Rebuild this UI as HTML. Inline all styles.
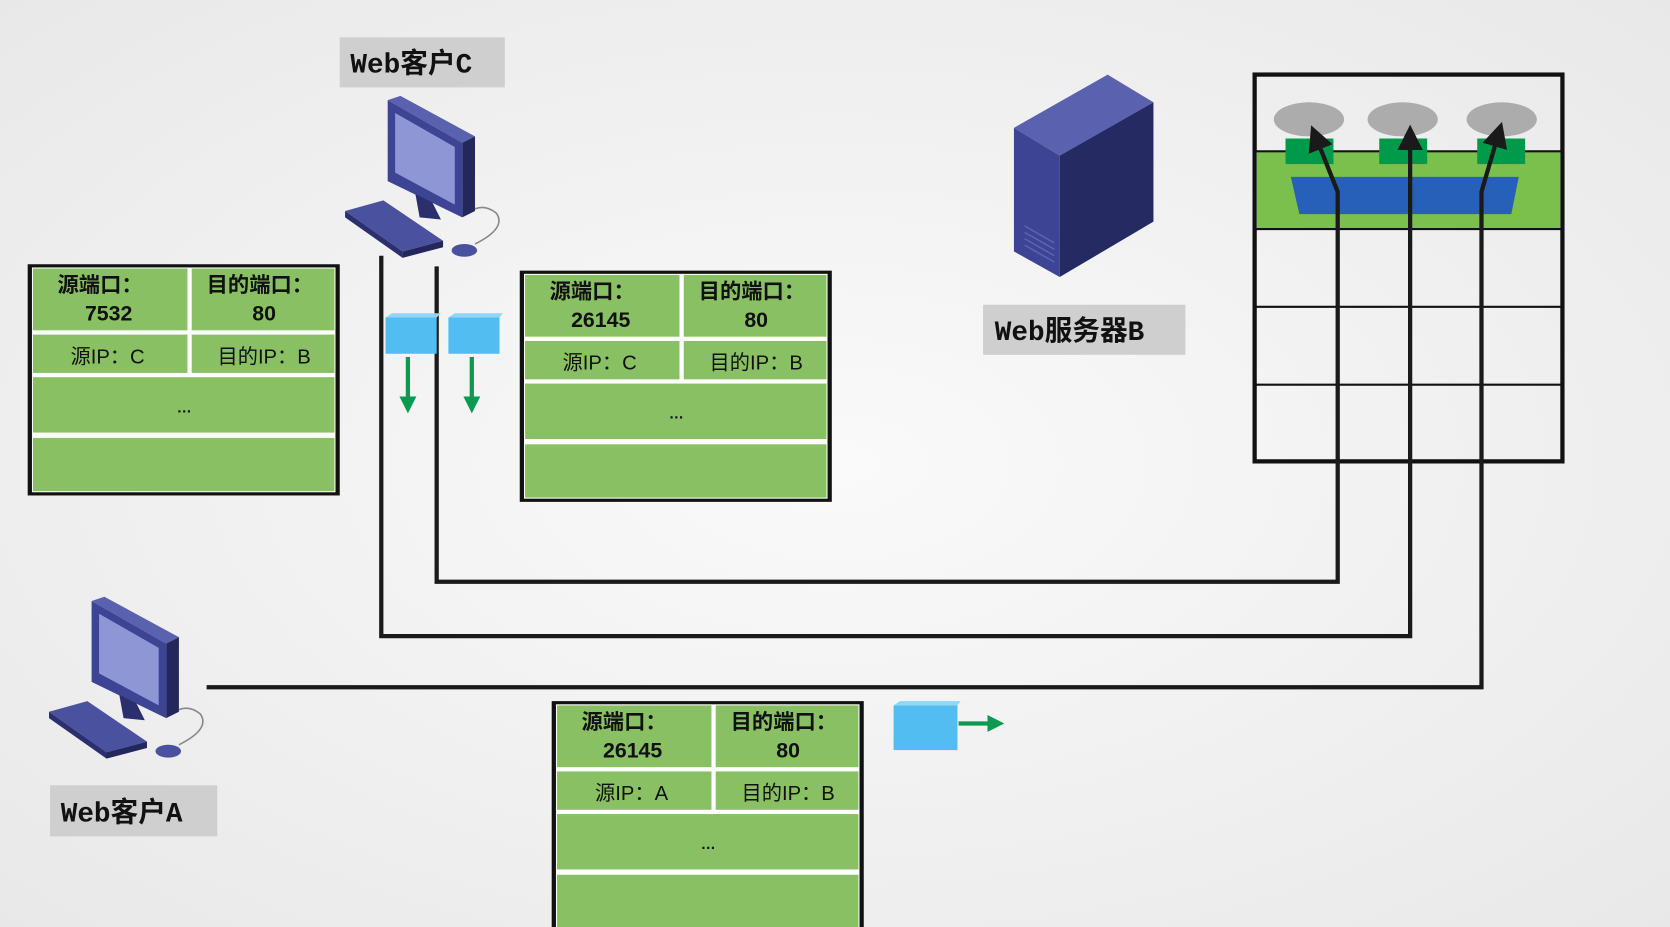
<!DOCTYPE html>
<html><head><meta charset="utf-8"><style>
html,body{margin:0;padding:0;width:1670px;height:927px;overflow:hidden;background:#f0f0f0;}
svg{display:block}
text{font-family:"Liberation Sans","Noto Sans CJK SC",sans-serif;}
.h{font-size:20px;font-weight:bold;fill:#111;text-anchor:middle}
.ip{font-size:19px;fill:#111;text-anchor:middle}
.lb{font-family:"Liberation Mono","Noto Sans CJK SC",monospace;font-size:26px;font-weight:bold;fill:#111}
</style></head><body>
<svg width="1670" height="927" viewBox="0 0 1568 870" preserveAspectRatio="none" xmlns="http://www.w3.org/2000/svg">
<defs>
<radialGradient id="bg" cx="0.5" cy="0.5" r="0.8"><stop offset="0" stop-color="#fafafa"/><stop offset="1" stop-color="#e6e6e6"/></radialGradient>
<g id="pc">
 <polygon points="0,0 12,-4 82,34 70,40" fill="#5a62b0"/>
 <polygon points="70,40 82,34 82,104 70,110" fill="#23275c"/>
 <polygon points="0,0 70,40 70,110 0,76" fill="#3d4494"/>
 <polygon points="7,12 63,44 63,98 7,68" fill="#8f96d6"/>
 <polygon points="26,88 42,96 50,112 30,110" fill="#2b2f6e"/>
 <polygon points="-40,104 -4,94 52,132 14,142" fill="#4a52a0"/>
 <polygon points="-40,104 14,142 14,148 -40,110" fill="#2b2f6e"/>
 <polygon points="14,142 52,132 52,138 14,148" fill="#23275c"/>
 <ellipse cx="72" cy="141" rx="12" ry="6" fill="#4a52a0"/>
 <path d="M82,135 Q112,120 102,106 Q92,98 82,102" stroke="#888" stroke-width="1.5" fill="none"/>
</g>
<g id="tbl">
 <rect x="0" y="0" width="293" height="217" fill="#111"/>
 <rect x="4" y="3" width="285" height="211" fill="#fff"/>
 <rect x="5" y="4" width="145" height="58" fill="#89c063"/>
 <rect x="154" y="4" width="134" height="58" fill="#89c063"/>
 <rect x="5" y="66" width="145" height="36" fill="#89c063"/>
 <rect x="154" y="66" width="134" height="36" fill="#89c063"/>
 <rect x="5" y="106" width="283" height="52" fill="#89c063"/>
 <rect x="5" y="163" width="283" height="50" fill="#89c063"/>
 <text x="147" y="139" class="h" style="font-size:14px">…</text>
</g>
<marker id="ah" markerWidth="6" markerHeight="6" refX="4" refY="3" orient="auto"><path d="M0,0 L6,3 L0,6 z" fill="#1a1a1a"/></marker>
<marker id="ga" markerWidth="4" markerHeight="4" refX="2" refY="2" orient="auto"><path d="M0,0 L4,2 L0,4 z" fill="#0a9a50"/></marker>
</defs>
<rect width="1568" height="870" fill="url(#bg)"/>

<rect x="1178" y="70" width="289" height="363" fill="none" stroke="#111" stroke-width="4"/>
<rect x="1180" y="143" width="285" height="72" fill="#7bbf4d"/>
<line x1="1178" y1="142" x2="1467" y2="142" stroke="#111" stroke-width="2"/>
<line x1="1178" y1="215" x2="1467" y2="215" stroke="#111" stroke-width="2"/>
<line x1="1178" y1="288" x2="1467" y2="288" stroke="#111" stroke-width="2"/>
<line x1="1178" y1="361" x2="1467" y2="361" stroke="#111" stroke-width="2"/>
<ellipse cx="1229" cy="112" rx="33" ry="16" fill="#acacac"/>
<ellipse cx="1317" cy="112" rx="33" ry="16" fill="#acacac"/>
<ellipse cx="1410" cy="112" rx="33" ry="16" fill="#acacac"/>
<rect x="1207" y="130" width="45" height="24" fill="#009a4a"/>
<rect x="1295" y="130" width="45" height="24" fill="#009a4a"/>
<rect x="1387" y="130" width="45" height="24" fill="#009a4a"/>
<polygon points="1212,166 1426,166 1419,201 1220,201" fill="#2760b8"/>

<g stroke="#1a1a1a" stroke-width="4" fill="none">
<path d="M410,250 V546 H1256 V180 L1234,125" marker-end="url(#ah)"/>
<path d="M358,240 V597 H1324 V125" marker-end="url(#ah)"/>
<path d="M194,645 H1391 V180 L1408,122" marker-end="url(#ah)"/>
</g>

<g transform="translate(26,248)"><use href="#tbl"/>
 <text x="68" y="26" class="h">源端口：</text><text x="76" y="53" class="h">7532</text>
 <text x="218" y="26" class="h">目的端口：</text><text x="222" y="53" class="h">80</text>
 <text x="75" y="93" class="ip">源IP：C</text><text x="222" y="93" class="ip">目的IP：B</text></g>
<g transform="translate(488,254)"><use href="#tbl"/>
 <text x="68" y="26" class="h">源端口：</text><text x="76" y="53" class="h">26145</text>
 <text x="218" y="26" class="h">目的端口：</text><text x="222" y="53" class="h">80</text>
 <text x="75" y="93" class="ip">源IP：C</text><text x="222" y="93" class="ip">目的IP：B</text></g>
<g transform="translate(518,658)"><use href="#tbl"/>
 <text x="68" y="26" class="h">源端口：</text><text x="76" y="53" class="h">26145</text>
 <text x="218" y="26" class="h">目的端口：</text><text x="222" y="53" class="h">80</text>
 <text x="75" y="93" class="ip">源IP：A</text><text x="222" y="93" class="ip">目的IP：B</text></g>

<rect x="362" y="298" width="48" height="34" fill="#52bdf0"/>
<polygon points="362,298 368,294 414,294 410,298" fill="#8fd6f7"/>
<rect x="421" y="298" width="48" height="34" fill="#52bdf0"/>
<polygon points="421,298 427,294 472,294 469,298" fill="#8fd6f7"/>
<g stroke="#0a9a50" stroke-width="4"><line x1="383" y1="335" x2="383" y2="380" marker-end="url(#ga)"/><line x1="443" y1="335" x2="443" y2="380" marker-end="url(#ga)"/><line x1="900" y1="679" x2="935" y2="679" marker-end="url(#ga)"/></g>
<rect x="839" y="662" width="60" height="42" fill="#52bdf0"/>
<polygon points="839,662 845,658 902,658 899,662" fill="#8fd6f7"/>

<g transform="translate(364,94)"><use href="#pc"/></g>
<g transform="translate(86,564)"><use href="#pc"/></g>

<polygon points="952,120 1040,70 1083,96 995,146" fill="#5a62b0"/>
<polygon points="952,120 995,146 995,260 952,236" fill="#3d4494"/>
<polygon points="995,146 1083,96 1083,208 995,260" fill="#262a63"/>
<g stroke="#5a62b0" stroke-width="1.5"><line x1="962" y1="212" x2="990" y2="228"/><line x1="962" y1="218" x2="990" y2="234"/><line x1="962" y1="224" x2="990" y2="240"/><line x1="962" y1="230" x2="990" y2="246"/></g>

<rect x="319" y="35" width="155" height="47" fill="#cfcfcf"/><text x="329" y="68" class="lb">Web客户C</text>
<rect x="923" y="286" width="190" height="47" fill="#cfcfcf"/><text x="934" y="319" class="lb">Web服务器B</text>
<rect x="47" y="737" width="157" height="48" fill="#cfcfcf"/><text x="57" y="771" class="lb">Web客户A</text>
</svg>
</body></html>
